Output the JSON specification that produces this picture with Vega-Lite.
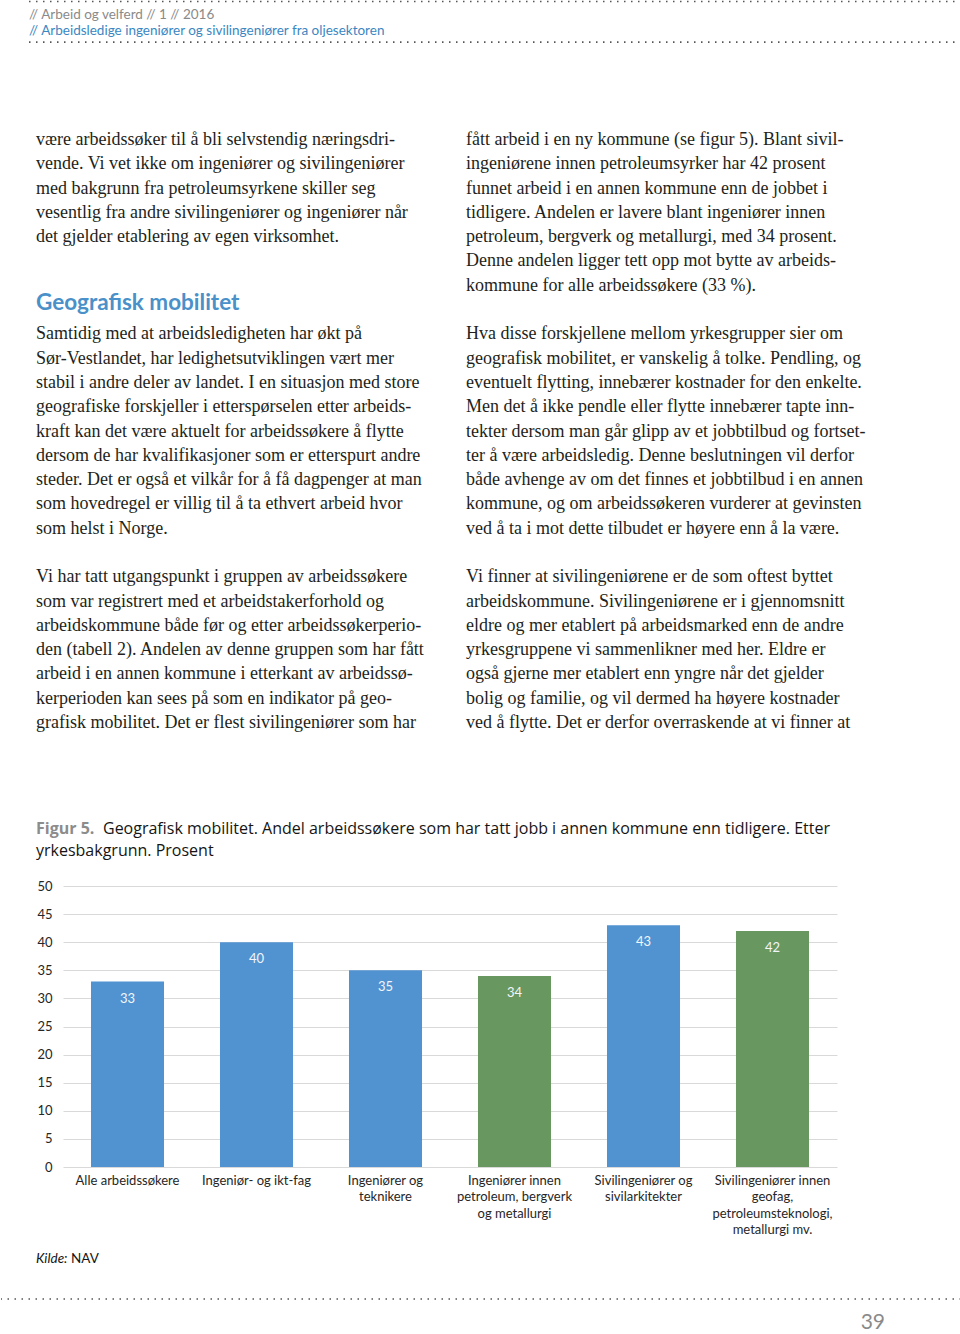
{
  "$schema": "https://vega.github.io/schema/vega-lite/v6.json",
  "padding": 0,
  "background": "white",
  "bounds": "flush",
  "spacing": 0,
  "resolve": {"scale": {"color": "independent"}},
  "config": {"view": {"stroke": null}, "font": "Lato"},
  "vconcat": [
    {
      "width": 960,
      "height": 50,
      "data": {"values": [
        {"linje": 1, "tekst": "//  Arbeid og velferd  //  1  // 2016", "type": "utgave"},
        {"linje": 2, "tekst": "//  Arbeidsledige ingeniører og sivilingeniører fra oljesektoren", "type": "tittel"}
      ]},
      "layer": [
        {
          "data": {"values": [{"skille": "topp"}]},
          "mark": {"type": "rule", "strokeDash": [1.5, 5.5], "strokeWidth": 1.6, "color": "#555555"},
          "encoding": {
            "x": {"datum": 0, "type": "quantitative", "scale": {"domain": [0, 1], "range": [28, 960]}, "axis": null},
            "x2": {"datum": 1},
            "y": {"datum": 0.1, "type": "quantitative", "scale": {"domain": [0, 3], "range": [0, 46]}, "axis": null}
          }
        },
        {
          "data": {"values": [{"skille": "bunn"}]},
          "mark": {"type": "rule", "strokeDash": [1.5, 5.5], "strokeWidth": 1.6, "color": "#555555"},
          "encoding": {
            "x": {"datum": 0, "type": "quantitative"},
            "x2": {"datum": 1},
            "y": {"datum": 2.75, "type": "quantitative"}
          }
        },
        {
          "mark": {"type": "text", "align": "left", "baseline": "middle", "fontSize": 13.5},
          "encoding": {
            "x": {"datum": 0, "type": "quantitative"},
            "y": {"field": "linje", "type": "quantitative"},
            "text": {"field": "tekst"},
            "color": {"field": "type", "type": "nominal", "scale": {"domain": ["utgave", "tittel"], "range": ["#8a8a8a", "#3b87c2"]}, "legend": null}
          }
        }
      ]
    },
    {
      "width": 960,
      "height": 760,
      "data": {"values": [
        {"kolonne": "venstre", "linje": 0, "type": "brødtekst", "tekst": "være arbeidssøker til å bli selvstendig næringsdri-"},
        {"kolonne": "venstre", "linje": 1, "type": "brødtekst", "tekst": "vende. Vi vet ikke om ingeniører og sivilingeniører"},
        {"kolonne": "venstre", "linje": 2, "type": "brødtekst", "tekst": "med bakgrunn fra petroleumsyrkene skiller seg"},
        {"kolonne": "venstre", "linje": 3, "type": "brødtekst", "tekst": "vesentlig fra andre sivilingeniører og ingeniører når"},
        {"kolonne": "venstre", "linje": 4, "type": "brødtekst", "tekst": "det gjelder etablering av egen virksomhet."},
        {"kolonne": "venstre", "linje": 7, "type": "overskrift", "tekst": "Geografisk mobilitet"},
        {"kolonne": "venstre", "linje": 8, "type": "brødtekst", "tekst": "Samtidig med at arbeidsledigheten har økt på"},
        {"kolonne": "venstre", "linje": 9, "type": "brødtekst", "tekst": "Sør-Vestlandet, har ledighetsutviklingen vært mer"},
        {"kolonne": "venstre", "linje": 10, "type": "brødtekst", "tekst": "stabil i andre deler av landet. I en situasjon med store"},
        {"kolonne": "venstre", "linje": 11, "type": "brødtekst", "tekst": "geografiske forskjeller i etterspørselen etter arbeids-"},
        {"kolonne": "venstre", "linje": 12, "type": "brødtekst", "tekst": "kraft kan det være aktuelt for arbeidssøkere å flytte"},
        {"kolonne": "venstre", "linje": 13, "type": "brødtekst", "tekst": "dersom de har kvalifikasjoner som er etterspurt andre"},
        {"kolonne": "venstre", "linje": 14, "type": "brødtekst", "tekst": "steder. Det er også et vilkår for å få dagpenger at man"},
        {"kolonne": "venstre", "linje": 15, "type": "brødtekst", "tekst": "som hovedregel er villig til å ta ethvert arbeid hvor"},
        {"kolonne": "venstre", "linje": 16, "type": "brødtekst", "tekst": "som helst i Norge."},
        {"kolonne": "venstre", "linje": 18, "type": "brødtekst", "tekst": "Vi har tatt utgangspunkt i gruppen av arbeidssøkere"},
        {"kolonne": "venstre", "linje": 19, "type": "brødtekst", "tekst": "som var registrert med et arbeidstakerforhold og"},
        {"kolonne": "venstre", "linje": 20, "type": "brødtekst", "tekst": "arbeidskommune både før og etter arbeidssøkerperio-"},
        {"kolonne": "venstre", "linje": 21, "type": "brødtekst", "tekst": "den (tabell 2). Andelen av denne gruppen som har fått"},
        {"kolonne": "venstre", "linje": 22, "type": "brødtekst", "tekst": "arbeid i en annen kommune i etterkant av arbeidssø-"},
        {"kolonne": "venstre", "linje": 23, "type": "brødtekst", "tekst": "kerperioden kan sees på som en indikator på geo-"},
        {"kolonne": "venstre", "linje": 24, "type": "brødtekst", "tekst": "grafisk mobilitet. Det er flest sivilingeniører som har"},
        {"kolonne": "høyre", "linje": 0, "type": "brødtekst", "tekst": "fått arbeid i en ny kommune (se figur 5). Blant sivil-"},
        {"kolonne": "høyre", "linje": 1, "type": "brødtekst", "tekst": "ingeniørene innen petroleumsyrker har 42 prosent"},
        {"kolonne": "høyre", "linje": 2, "type": "brødtekst", "tekst": "funnet arbeid i en annen kommune enn de jobbet i"},
        {"kolonne": "høyre", "linje": 3, "type": "brødtekst", "tekst": "tidligere. Andelen er lavere blant ingeniører innen"},
        {"kolonne": "høyre", "linje": 4, "type": "brødtekst", "tekst": "petroleum, bergverk og metallurgi, med 34 prosent."},
        {"kolonne": "høyre", "linje": 5, "type": "brødtekst", "tekst": "Denne andelen ligger tett opp mot bytte av arbeids-"},
        {"kolonne": "høyre", "linje": 6, "type": "brødtekst", "tekst": "kommune for alle arbeidssøkere (33 %)."},
        {"kolonne": "høyre", "linje": 8, "type": "brødtekst", "tekst": "Hva disse forskjellene mellom yrkesgrupper sier om"},
        {"kolonne": "høyre", "linje": 9, "type": "brødtekst", "tekst": "geografisk mobilitet, er vanskelig å tolke. Pendling, og"},
        {"kolonne": "høyre", "linje": 10, "type": "brødtekst", "tekst": "eventuelt flytting, innebærer kostnader for den enkelte."},
        {"kolonne": "høyre", "linje": 11, "type": "brødtekst", "tekst": "Men det å ikke pendle eller flytte innebærer tapte inn-"},
        {"kolonne": "høyre", "linje": 12, "type": "brødtekst", "tekst": "tekter dersom man går glipp av et jobbtilbud og fortset-"},
        {"kolonne": "høyre", "linje": 13, "type": "brødtekst", "tekst": "ter å være arbeidsledig. Denne beslutningen vil derfor"},
        {"kolonne": "høyre", "linje": 14, "type": "brødtekst", "tekst": "både avhenge av om det finnes et jobbtilbud i en annen"},
        {"kolonne": "høyre", "linje": 15, "type": "brødtekst", "tekst": "kommune, og om arbeidssøkeren vurderer at gevinsten"},
        {"kolonne": "høyre", "linje": 16, "type": "brødtekst", "tekst": "ved å ta i mot dette tilbudet er høyere enn å la være."},
        {"kolonne": "høyre", "linje": 18, "type": "brødtekst", "tekst": "Vi finner at sivilingeniørene er de som oftest byttet"},
        {"kolonne": "høyre", "linje": 19, "type": "brødtekst", "tekst": "arbeidskommune. Sivilingeniørene er i gjennomsnitt"},
        {"kolonne": "høyre", "linje": 20, "type": "brødtekst", "tekst": "eldre og mer etablert på arbeidsmarked enn de andre"},
        {"kolonne": "høyre", "linje": 21, "type": "brødtekst", "tekst": "yrkesgruppene vi sammenlikner med her. Eldre er"},
        {"kolonne": "høyre", "linje": 22, "type": "brødtekst", "tekst": "også gjerne mer etablert enn yngre når det gjelder"},
        {"kolonne": "høyre", "linje": 23, "type": "brødtekst", "tekst": "bolig og familie, og vil dermed ha høyere kostnader"},
        {"kolonne": "høyre", "linje": 24, "type": "brødtekst", "tekst": "ved å flytte. Det er derfor overraskende at vi finner at"}
      ]},
      "encoding": {
        "x": {"field": "kolonne", "type": "nominal", "bandPosition": 0, "scale": {"type": "band", "domain": ["venstre", "høyre"], "range": [35, 895], "paddingInner": 0, "paddingOuter": 0}, "axis": null},
        "y": {"field": "linje", "type": "quantitative", "scale": {"domain": [0, 24], "range": [90, 673]}, "axis": null},
        "text": {"field": "tekst"}
      },
      "layer": [
        {
          "transform": [{"filter": "datum.type === 'brødtekst'"}],
          "mark": {"type": "text", "align": "left", "baseline": "middle", "font": "Liberation Serif", "fontSize": 18, "color": "#231f20"}
        },
        {
          "transform": [{"filter": "datum.type === 'overskrift'"}],
          "mark": {"type": "text", "align": "left", "baseline": "middle", "font": "Lato", "fontWeight": "bold", "fontSize": 22.5, "color": "#4a90c9", "dy": -7}
        }
      ]
    },
    {
      "width": 960,
      "height": 76,
      "data": {"values": [
        {"linje": 1, "figur": "Figur 5.", "tekst": "Geografisk mobilitet. Andel arbeidssøkere som har tatt jobb i annen kommune enn tidligere. Etter"},
        {"linje": 2, "figur": "", "tekst": "yrkesbakgrunn. Prosent"}
      ]},
      "encoding": {
        "x": {"datum": 0, "type": "quantitative", "scale": {"domain": [0, 1], "range": [35, 960]}, "axis": null},
        "y": {"field": "linje", "type": "quantitative", "scale": {"domain": [1, 2], "range": [19, 41]}, "axis": null}
      },
      "layer": [
        {
          "transform": [{"filter": "datum.linje === 1"}],
          "mark": {"type": "text", "align": "left", "baseline": "middle", "font": "Open Sans", "fontSize": 16, "fontWeight": "bold", "color": "#8c8c8c"},
          "encoding": {"text": {"field": "figur"}}
        },
        {
          "transform": [{"filter": "datum.linje === 1"}],
          "mark": {"type": "text", "align": "left", "baseline": "middle", "font": "Open Sans", "fontSize": 16, "color": "#151515", "dx": 67},
          "encoding": {"text": {"field": "tekst"}}
        },
        {
          "transform": [{"filter": "datum.linje === 2"}],
          "mark": {"type": "text", "align": "left", "baseline": "middle", "font": "Open Sans", "fontSize": 16, "color": "#151515"},
          "encoding": {"text": {"field": "tekst"}}
        }
      ]
    },
    {
      "width": 960,
      "height": 281,
      "data": {"values": [
        {"yrke": "Alle arbeidssøkere", "andel": 33, "gruppe": "Øvrige"},
        {"yrke": "Ingeniør- og ikt-fag", "andel": 40, "gruppe": "Øvrige"},
        {"yrke": "Ingeniører og teknikere", "andel": 35, "gruppe": "Øvrige"},
        {"yrke": "Ingeniører innen petroleum, bergverk og metallurgi", "andel": 34, "gruppe": "Petroleum"},
        {"yrke": "Sivilingeniører og sivilarkitekter", "andel": 43, "gruppe": "Øvrige"},
        {"yrke": "Sivilingeniører innen geofag, petroleumsteknologi, metallurgi mv.", "andel": 42, "gruppe": "Petroleum"}
      ]},
      "encoding": {
        "x": {
          "field": "yrke", "type": "nominal", "sort": null,
          "scale": {"type": "band", "range": [62, 836], "paddingInner": 0.434, "paddingOuter": 0.217},
          "axis": {
            "title": null, "labelAngle": 0, "ticks": false, "domain": false, "labelPadding": 7,
            "labelFontSize": 13, "labelColor": "#262626", "labelLineHeight": 16.5, "labelLimit": 300,
            "labelExpr": "datum.value == 'Ingeniører og teknikere' ? ['Ingeniører og', 'teknikere'] : datum.value == 'Ingeniører innen petroleum, bergverk og metallurgi' ? ['Ingeniører innen', 'petroleum, bergverk', 'og metallurgi'] : datum.value == 'Sivilingeniører og sivilarkitekter' ? ['Sivilingeniører og', 'sivilarkitekter'] : datum.value == 'Sivilingeniører innen geofag, petroleumsteknologi, metallurgi mv.' ? ['Sivilingeniører innen', 'geofag,', 'petroleumsteknologi,', 'metallurgi mv.'] : datum.value"
          }
        },
        "y": {
          "field": "andel", "type": "quantitative",
          "scale": {"domain": [0, 50], "nice": false},
          "axis": {
            "title": null, "values": [0, 5, 10, 15, 20, 25, 30, 35, 40, 45, 50], "offset": -56,
            "ticks": false, "domain": false, "labelPadding": 5, "labelFontSize": 13, "labelColor": "#262626",
            "gridColor": "#d9d9d9", "gridWidth": 1
          }
        }
      },
      "layer": [
        {
          "mark": {"type": "bar"},
          "encoding": {
            "color": {"field": "gruppe", "type": "nominal", "scale": {"domain": ["Øvrige", "Petroleum"], "range": ["#5192d0", "#68975f"]}, "legend": null}
          }
        },
        {
          "mark": {"type": "text", "baseline": "middle", "dy": 17, "fontSize": 13, "color": "#f2f5f9"},
          "encoding": {"text": {"field": "andel", "type": "quantitative"}}
        }
      ]
    },
    {
      "width": 960,
      "height": 167,
      "data": {"values": [{"etikett": "Kilde:", "kilde": "NAV", "side": "39"}]},
      "layer": [
        {
          "mark": {"type": "text", "align": "left", "baseline": "middle", "fontSize": 13.5, "fontStyle": "italic", "color": "#151515"},
          "encoding": {
            "x": {"datum": 0, "type": "quantitative", "scale": {"domain": [0, 1], "range": [35, 884]}, "axis": null},
            "y": {"datum": 0, "type": "quantitative", "scale": {"domain": [0, 1], "range": [92, 154]}, "axis": null},
            "text": {"field": "etikett"}
          }
        },
        {
          "mark": {"type": "text", "align": "left", "baseline": "middle", "fontSize": 13.5, "color": "#151515", "dx": 35},
          "encoding": {
            "x": {"datum": 0, "type": "quantitative"},
            "y": {"datum": 0, "type": "quantitative"},
            "text": {"field": "kilde"}
          }
        },
        {
          "mark": {"type": "rule", "strokeDash": [1.5, 5.5], "strokeWidth": 1.6, "color": "#555555"},
          "encoding": {"y": {"datum": 0.645, "type": "quantitative"}}
        },
        {
          "mark": {"type": "text", "align": "right", "baseline": "middle", "fontSize": 21, "color": "#8a8a8a"},
          "encoding": {
            "x": {"datum": 1, "type": "quantitative"},
            "y": {"datum": 1.03, "type": "quantitative"},
            "text": {"field": "side"}
          }
        }
      ]
    }
  ]
}
